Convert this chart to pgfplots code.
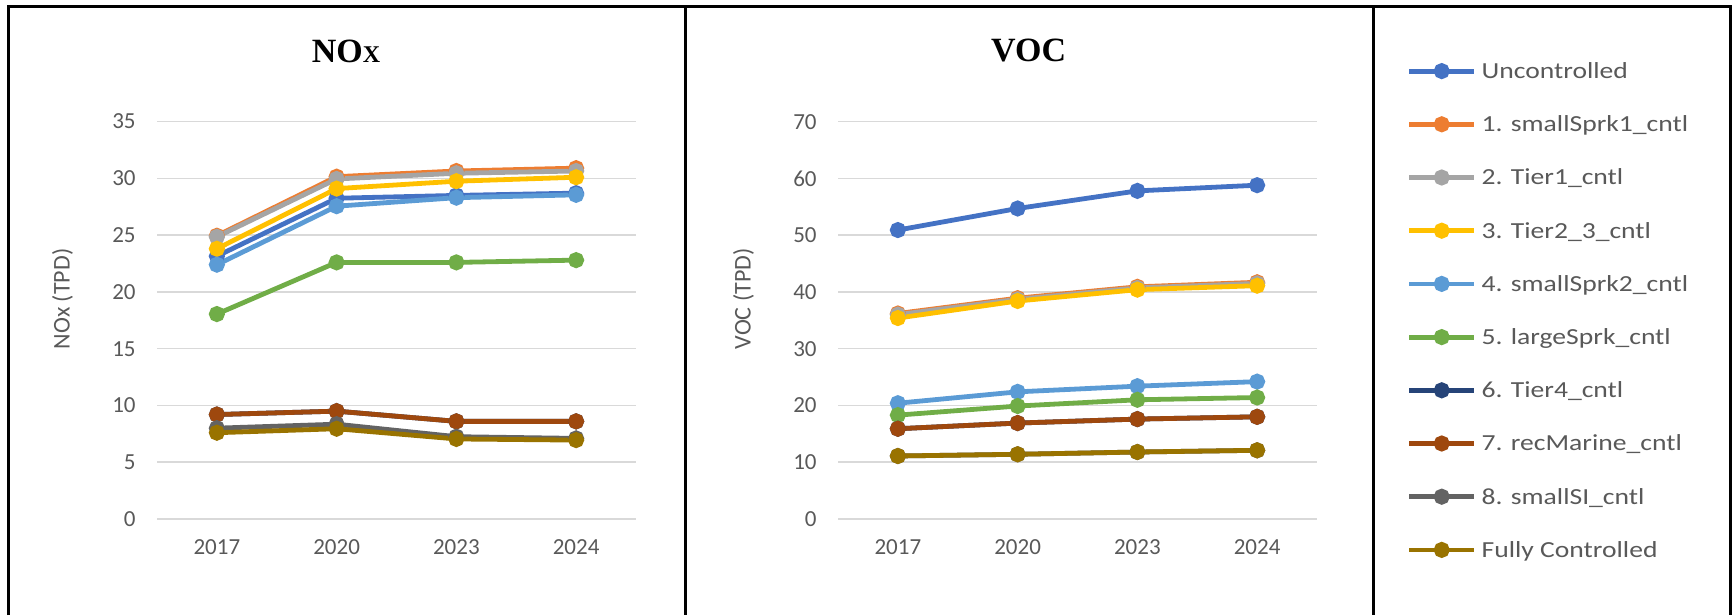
\documentclass[border=0pt]{standalone}
\usepackage{fontspec}
\setmainfont{Carlito}
\newfontfamily\legfont[FakeStretch=1.2]{Carlito}
\newfontfamily\titlefont{Liberation Serif}
\usepackage{pgfplots}
\pgfplotsset{compat=1.18}
\definecolor{cU}{HTML}{4472C4}
\definecolor{cA}{HTML}{ED7D31}
\definecolor{cB}{HTML}{A5A5A5}
\definecolor{cC}{HTML}{FFC000}
\definecolor{cD}{HTML}{5B9BD5}
\definecolor{cE}{HTML}{70AD47}
\definecolor{cF}{HTML}{264478}
\definecolor{cG}{HTML}{9E480E}
\definecolor{cH}{HTML}{636363}
\definecolor{cI}{HTML}{997300}
\definecolor{gridc}{HTML}{D9D9D9}
\definecolor{tickc}{HTML}{595959}
\pgfplotsset{
  base/.style={
    scale only axis, width=239.5pt, height=198.7pt,
    xmin=-0.5, xmax=3.5, xtick={0,1,2,3}, xticklabels={2017,2020,2023,2024},
    ymin=0,
    axis line style={draw=none},
    major tick length=0pt,
    ymajorgrids, major grid style={color=gridc, line width=0.75pt},
    tick label style={font=\fontsize{11.5}{13}\selectfont, text=tickc},
    /pgf/number format/assume math mode=true,
    xticklabel style={inner sep=0pt, anchor=center, yshift=-14pt},
    yticklabel style={inner sep=0pt, anchor=east, xshift=-10.5pt},
    ylabel style={font=\fontsize{12}{14}\selectfont, text=tickc, at={(axis description cs:-0.1973,0.554)}, anchor=center},
    title style={anchor=center, font=\titlefont\bfseries\fontsize{17}{19}\selectfont},
    every axis plot/.append style={line width=2.4pt, mark=*, mark size=2.8pt, mark options={solid}},
    clip=false,
  }
}
\begin{document}
\begin{tikzpicture}
\useasboundingbox (0,0) rectangle (866pt,-307.5pt);
\draw[line width=1.5pt] (4pt,-307.5pt) -- (4pt,-3.5pt) -- (865pt,-3.5pt) -- (865pt,-307.5pt);
\draw[line width=1.5pt] (342.5pt,-3.5pt) -- (342.5pt,-307.5pt);
\draw[line width=1.5pt] (686.5pt,-3.5pt) -- (686.5pt,-307.5pt);

\begin{axis}[base, at={(78.5pt,-259.5pt)}, anchor=south west,
  ymax=35, ytick={0,5,...,35}, ylabel={NOx (TPD)},
  title={NO{\fontsize{12}{13}\selectfont X}},
  title style={at={(axis description cs:0.3946,1.1475)}}]
\addplot[cU] coordinates {(0,23.15) (1,28.25) (2,28.5) (3,28.7)};
\addplot[cA] coordinates {(0,24.95) (1,30.15) (2,30.65) (3,30.9)};
\addplot[cB] coordinates {(0,24.85) (1,29.95) (2,30.45) (3,30.65)};
\addplot[cC] coordinates {(0,23.8) (1,29.1) (2,29.75) (3,30.1)};
\addplot[cD] coordinates {(0,22.4) (1,27.55) (2,28.3) (3,28.55)};
\addplot[cE] coordinates {(0,18.05) (1,22.6) (2,22.6) (3,22.8)};
\addplot[cF] coordinates {(0,9.2) (1,9.5) (2,8.6) (3,8.6)};
\addplot[cG] coordinates {(0,9.2) (1,9.5) (2,8.6) (3,8.6)};
\addplot[cH] coordinates {(0,8.0) (1,8.35) (2,7.25) (3,7.1)};
\addplot[cI] coordinates {(0,7.6) (1,7.95) (2,7.05) (3,6.95)};
\end{axis}

\begin{axis}[base, at={(419pt,-259.5pt)}, anchor=south west,
  ymax=70, ytick={0,10,...,70}, ylabel={VOC (TPD)},
  title={VOC},
  title style={at={(axis description cs:0.398,1.1475)}},
  legend cell align=left,
  legend style={at={(axis description cs:1.1867,0.5247)}, anchor=west, draw=none, fill=none,
    inner sep=0pt, row sep=19.2pt, column sep=2.5pt,
    font=\legfont\fontsize{11.5}{13}\selectfont, text=tickc,
    nodes={inner sep=0pt, text height=7.4pt, text depth=0pt}},
  legend image code/.code={\draw[#1, mark repeat=2, mark phase=2] plot coordinates {(0pt,0pt) (16.25pt,0pt) (32.5pt,0pt)};}]
\addplot[cU] coordinates {(0,50.9) (1,54.7) (2,57.8) (3,58.8)};
\addplot[cA] coordinates {(0,36.2) (1,38.9) (2,40.9) (3,41.7)};
\addplot[cB] coordinates {(0,36.0) (1,38.7) (2,40.7) (3,41.5)};
\addplot[cC] coordinates {(0,35.4) (1,38.4) (2,40.4) (3,41.1)};
\addplot[cD] coordinates {(0,20.4) (1,22.4) (2,23.4) (3,24.2)};
\addplot[cE] coordinates {(0,18.3) (1,19.9) (2,21.0) (3,21.4)};
\addplot[cF] coordinates {(0,15.9) (1,16.9) (2,17.6) (3,18.0)};
\addplot[cG] coordinates {(0,15.9) (1,16.9) (2,17.6) (3,18.0)};
\addplot[cH] coordinates {(0,11.1) (1,11.4) (2,11.8) (3,12.1)};
\addplot[cI] coordinates {(0,11.1) (1,11.4) (2,11.8) (3,12.1)};
\legend{Uncontrolled, 1. smallSprk1\_cntl, 2. Tier1\_cntl, 3. Tier2\_3\_cntl, 4. smallSprk2\_cntl, 5. largeSprk\_cntl, 6. Tier4\_cntl, 7. recMarine\_cntl, 8. smallSI\_cntl, Fully Controlled}
\end{axis}
\end{tikzpicture}
\end{document}
